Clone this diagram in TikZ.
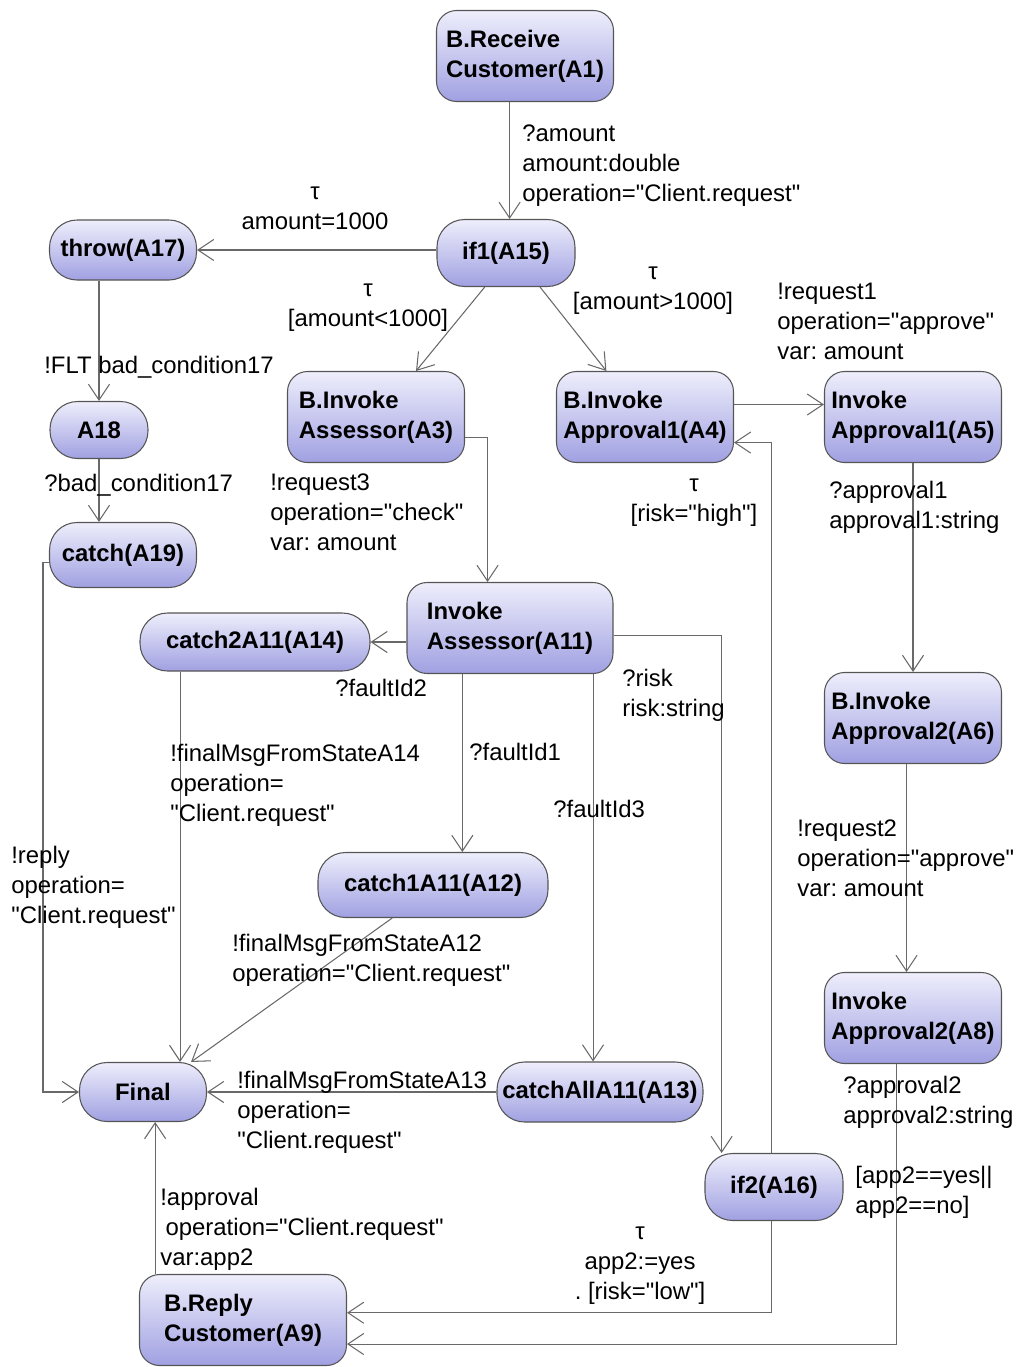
\documentclass[tikz,border=0pt]{standalone}
\usepackage{fontspec}
\setmainfont{Liberation Sans}[Ligatures=TeXOff]
\usetikzlibrary{arrows.meta}
\frenchspacing

\definecolor{stTop}{RGB}{238,238,252}
\definecolor{stBot}{RGB}{160,160,226}
\definecolor{stLine}{RGB}{85,85,85}
\definecolor{trLine}{RGB}{105,105,105}

\tikzset{
  state/.style={draw=stLine, line width=0.6pt, rounded corners=0.4cm,
    top color=stTop, bottom color=stBot, align=left, inner sep=2pt,
    font=\fontsize{13.6}{17.07}\selectfont\bfseries,
    minimum width=3.54cm, minimum height=1.82cm},
  pill/.style={state, rounded corners=0.55cm, minimum height=1.2cm},
  tr/.style={draw=trLine, line width=0.6pt, -{Straight Barb[length=9pt,width=12pt]}},
  lbl/.style={font=\fontsize{13.6}{17.07}\selectfont, inner sep=0pt,
    align=left, anchor=north west},
  tlbl/.style={lbl, align=center, anchor=north},
}

\begin{document}
\begin{tikzpicture}[x=0.02cm, y=-0.02cm]
  \useasboundingbox (0,0) rectangle (1020,1367);
  % 状态
  \node[state] (A1) at (525,56) {B.Receive\\Customer(A1)};
  \node[pill, minimum width=2.76cm, minimum height=1.34cm] (A15) at (506,253) {if1(A15)};
  \node[pill, minimum width=2.94cm] (A17) at (123,250) {throw(A17)};
  \node[pill, minimum width=1.96cm, minimum height=1.14cm] (A18) at (99,430) {A18};
  \node[pill, minimum width=2.94cm, minimum height=1.3cm] (A19) at (123,555) {catch(A19)};
  \node[state] (A3) at (376,417) {B.Invoke\\Assessor(A3)};
  \node[state] (A4) at (645,417) {B.Invoke\\Approval1(A4)};
  \node[state] (A5) at (913,417) {Invoke\\Approval1(A5)};
  \node[state, minimum width=4.12cm] (A11) at (510,628) {Invoke\\Assessor(A11)};
  \node[pill, minimum width=4.6cm, minimum height=1.16cm] (A14) at (255,642) {catch2A11(A14)};
  \node[state] (A6) at (913,718) {B.Invoke\\Approval2(A6)};
  \node[pill, minimum width=4.6cm, minimum height=1.3cm] (A12) at (433,885) {catch1A11(A12)};
  \node[state] (A8) at (913,1018) {Invoke\\Approval2(A8)};
  \node[pill, minimum width=2.54cm, minimum height=1.18cm] (Final) at (143,1092) {Final};
  \node[pill, minimum width=4.12cm] (A13) at (600,1092) {catchAllA11(A13)};
  \node[pill, minimum width=2.76cm, minimum height=1.34cm] (A16) at (774,1187) {if2(A16)};
  \node[state, minimum width=4.14cm] (A9) at (243,1320) {B.Reply\\Customer(A9)};

  % 迁移
  \draw[tr] (A1.south -| A15.84) -- (A15.84);
  \draw[tr] (A15.west |- A17.east) -- (A17.east);
  \draw[tr] (A15.238) -- (A3.49);
  \draw[tr] (A15.-45) -- (A4.130);
  \draw[tr] (A17.south -| A18.north) -- (A18.north);
  \draw[tr] (A18.south) -- (A18.south |- A19.north);
  \draw[tr] (A19.186) -- ++(-6,0) |- (Final.west);
  \draw[tr] (A3.-13) -| (A11.116);
  \draw[tr] (A4.8) -- (A5.172);
  \draw[tr] (A16.95) |- (A4.-16);
  \draw[tr] (A5.south) -- (A6.north);
  \draw[tr] (A11.west |- A14.east) -- (A14.east);
  \draw[tr] (A11.224) -- (A11.224 |- A12.north);
  \draw[tr] (A11.-29) -- (A11.-29 |- A13.north);
  \draw[tr] (A11.-4) -| (A16.147);
  \draw[tr] (A14.south -| Final.39) -- (Final.39);
  \draw[tr] (A12.219) -- (Final.32);
  \draw[tr] (A13.west) -- (Final.east);
  \draw[tr] (A6.262) -- (A6.262 |- A8.north);
  \draw[tr] (A8.250) |- (A9.-13);
  \draw[tr] (A16.-95) |- (A9.4);
  \draw[tr] (A9.north -| Final.-68) -- (Final.-68);

  % 标注
  \node[lbl] (t1) at (522,124) {?amount\\amount:double\\operation="Client.request"};
  \node[tlbl] (t2) at (315,187) {τ\\amount=1000};
  \node[tlbl] (t3) at (368,284) {τ\\{}[amount<1000]};
  \node[tlbl] (t4) at (653,267) {τ\\{}[amount>1000]};
  \node[lbl] (t5) at (777,283) {!request1\\operation="approve"\\var: amount};
  \node[lbl] (t6) at (44,356) {!FLT bad\_condition17};
  \node[lbl] (t7) at (44,474) {?bad\_condition17};
  \node[lbl] (t8) at (270,473) {!request3\\operation="check"\\var: amount};
  \node[tlbl] (t9) at (694,479) {τ\\{}[risk="high"]};
  \node[lbl] (t10) at (829,481) {?approval1\\approval1:string};
  \node[lbl] (t11) at (335,679) {?faultId2};
  \node[lbl] (t12) at (469,743) {?faultId1};
  \node[lbl] (t13) at (553,800) {?faultId3};
  \node[lbl] (t14) at (622,669) {?risk\\risk:string};
  \node[lbl] (t15) at (170,744) {!finalMsgFromStateA14\\operation=\\"Client.request"};
  \node[lbl] (t16) at (11,846) {!reply\\operation=\\"Client.request"};
  \node[lbl] (t17) at (797,819) {!request2\\operation="approve"\\var: amount};
  \node[lbl] (t18) at (232,934) {!finalMsgFromStateA12\\operation="Client.request"};
  \node[lbl] (t19) at (237,1071) {!finalMsgFromStateA13\\operation=\\"Client.request"};
  \node[lbl] (t20) at (843,1076) {?approval2\\approval2:string};
  \node[lbl] (t21) at (855,1166) {[app2==yes||\\app2==no]};
  \node[tlbl] (t22) at (640,1227) {τ\\app2:=yes\\. [risk="low"]};
  \node[lbl] (t23) at (160,1188) {!approval\\\hspace*{3pt}operation="Client.request"\\var:app2};
\end{tikzpicture}
\end{document}
